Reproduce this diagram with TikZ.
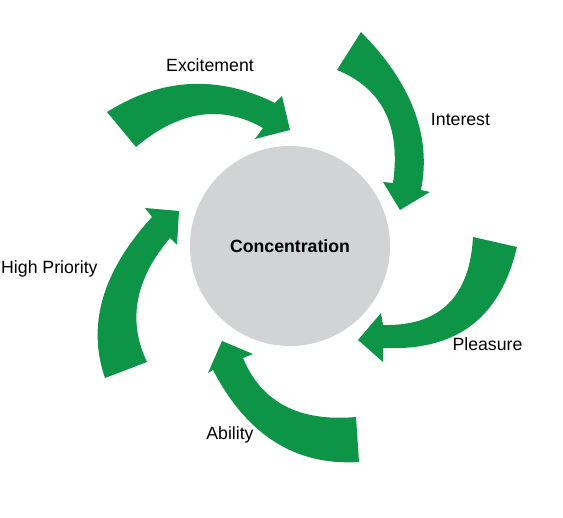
\documentclass[tikz,border=0pt]{standalone}
\usepackage{fontspec}
\setmainfont{Liberation Sans}
\usetikzlibrary{positioning}
\definecolor{CycleGreen}{HTML}{0E9447}
\definecolor{CoreGray}{HTML}{D1D3D4}
\begin{document}
\begin{tikzpicture}[
  x=1pt, y=-1pt,
  core/.style={circle, fill=CoreGray, minimum size=200pt, inner sep=0pt,
    font=\fontsize{17.7}{20}\selectfont\bfseries},
  factor/.style={font=\fontsize{17.7}{20}\selectfont, anchor=base, inner sep=0pt},
  band/.style={fill=CycleGreen}
]
\useasboundingbox (0,0) rectangle (563,518);

\node[core] (core) at (290,246) {Concentration};

\fill[band] (107,112) .. controls (161.7,77.7) and (217.7,74.7) .. (275,103)
  -- (282,96) -- (290,130) -- (255,139) -- (263,128)
  .. controls (221.3,104.3) and (179,110.7) .. (136,147) -- cycle;
\fill[band] (361,32) .. controls (411.7,83.3) and (431.7,136) .. (421,190)
  -- (430,192) -- (400,210) -- (383,182) -- (393,183)
  .. controls (401,126) and (382.3,88.3) .. (337,70) -- cycle;
\fill[band] (517,247) .. controls (499,322.7) and (452,351) .. (383,348)
  -- (383,362) -- (358,340) -- (381,313) -- (383,325)
  .. controls (439.7,326.3) and (469.7,297) .. (473,237) -- cycle;
\fill[band] (359,462) .. controls (295.7,466) and (247,435.3) .. (213,370)
  -- (208,373) -- (222,341) -- (253,354) -- (243,358)
  .. controls (261.3,402.3) and (299,422) .. (356,417) -- cycle;
\fill[band] (105,378) .. controls (86.7,325) and (102.3,271.3) .. (152,217)
  -- (145,208) -- (179,211) -- (177,245) -- (170,238)
  .. controls (135,279.3) and (127.3,320.7) .. (147,362) -- cycle;

\node[factor] (excitement) at (210,72) {Excitement};
\node[factor] (interest) at (460.5,125.5) {Interest};
\node[factor] (pleasure) at (487.5,350.7) {Pleasure};
\node[factor] (ability) at (230,440) {Ability};
\node[factor, anchor=base west] (priority) at (1,274) {High Priority};

\end{tikzpicture}
\end{document}
